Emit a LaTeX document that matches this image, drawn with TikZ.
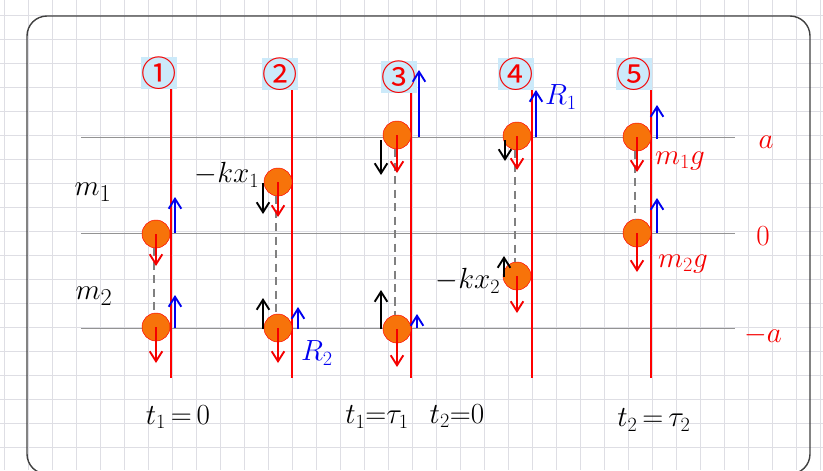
\documentclass[tikz,border=0pt]{standalone}
\usepackage{fontspec}
\usepackage{amsmath}
\newfontfamily\circfont{Noto Sans CJK JP}
\usetikzlibrary{arrows.meta,positioning}
\definecolor{ballorange}{RGB}{247,115,10}
\definecolor{gridgray}{RGB}{222,222,228}
\definecolor{tagblue}{RGB}{204,234,250}
\definecolor{penred}{RGB}{245,0,0}
\definecolor{penblue}{RGB}{0,0,240}

\begin{document}
\begin{tikzpicture}[x=0.03cm, y=-0.03cm,
  ball/.style={circle, draw=red, thin, fill=ballorange, minimum size=0.84cm, inner sep=0pt},
  tag/.style={fill=tagblue, text=penred, minimum size=0.82cm, inner sep=0pt, font=\circfont\fontsize{30}{30}\selectfont},
  force/.style={line width=1.6pt, -{Straight Barb[length=3mm,width=3.8mm,line width=1.6pt]}},
  redf/.style={force, penred},
  blkf/.style={force, black},
  bluef/.style={force, penblue},
  spring/.style={gray, line width=2pt, dash pattern=on 7pt off 4.5pt},
  level/.style={gray!85, line width=0.7pt},
  tline/.style={draw=red, line width=0.9pt},
  lbl/.style={font=\fontsize{23}{27}\selectfont},
  big/.style={font=\fontsize{29}{33}\selectfont}
]
\useasboundingbox (0,0) rectangle (823,470);
% paper
\foreach \x in {4,28,...,820} \draw[gridgray, line width=0.7pt] (\x,0) -- (\x,470);
\foreach \y in {15,39,...,447} \draw[gridgray, line width=0.7pt] (0,\y) -- (823,\y);
\draw[black!75, line width=1.2pt, rounded corners=0.6cm] (27,16) rectangle (810,474);

% levels a, 0, -a and the time axes
\foreach \y in {137,233,328} \draw[level] (81,\y) -- (735,\y);
\foreach \x in {171,292,411,532,651} \draw[tline] (\x,88) -- (\x,378);

\foreach \n/\x/\y in {1/159/73, 2/280/74, 3/399/77, 4/516/74, 5/634/74}
  \node[tag] (tag\n) at (\x,\y) {\ifcase\n\or ①\or ②\or ③\or ④\or ⑤\fi};

% masses (a = upper, b = lower)
\node[ball] (b1a) at (156,234) {};
\node[ball] (b1b) at (156,327) {};
\node[ball] (b2a) at (278,182) {};
\node[ball] (b2b) at (278,328) {};
\node[ball] (b3a) at (397,135) {};
\node[ball] (b3b) at (397,329) {};
\node[ball] (b4a) at (517,136) {};
\node[ball] (b4b) at (517,276) {};
\node[ball] (b5a) at (637,137) {};
\node[ball] (b5b) at (637,233) {};

\foreach \c in {1,...,5} \draw[spring] ([xshift=-0.06cm]b\c a.south) -- ([xshift=-0.06cm]b\c b.north);

% gravity
\foreach \c/\la/\lb in {1/32/36, 2/35/35, 3/38/38, 4/34/37, 5/35/39} {
  \draw[redf] (b\c a.center) -- ++(0,\la);
  \draw[redf] (b\c b.center) -- ++(0,\lb);
}

% spring forces
\draw[blkf] ([shift={(-15,1)}]b2a.center) -- ++(0,31);
\draw[blkf] ([shift={(-15,1)}]b2b.center) -- ++(0,-31);
\draw[blkf] ([shift={(-16,5)}]b3a.center) -- ++(0,35);
\draw[blkf] ([shift={(-16,0)}]b3b.center) -- ++(0,-39);
\draw[blkf] ([shift={(-12,4)}]b4a.center) -- ++(0,21);
\draw[blkf] ([shift={(-13,1)}]b4b.center) -- ++(0,-21);

% normal forces
\draw[bluef] ([shift={(19,-1)}]b1a.center) -- ++(0,-36);
\draw[bluef] ([shift={(19,1)}]b1b.center) -- ++(0,-33);
\draw[bluef] ([shift={(20,1)}]b2b.center) -- ++(0,-22);
\draw[bluef] ([shift={(22,2)}]b3a.center) -- ++(0,-67);
\draw[bluef] ([shift={(20,-1)}]b3b.center) -- ++(0,-14);
\draw[bluef] ([shift={(19,1)}]b4a.center) -- ++(0,-47);
\draw[bluef] ([shift={(20,2)}]b5a.center) -- ++(0,-34);
\draw[bluef] ([shift={(20,0)}]b5b.center) -- ++(0,-35);

% labels
\node[big] (m1) at (93,192) {$m_1$};
\node[big] (m2) at (94,296) {$m_2$};
\node[lbl] (kx1) at (227,175) {$-kx_1$};
\node[lbl] (kx2) at (468,281) {$-kx_2$};
\node[lbl, text=penblue] (R1) at (561,97) {$R_1$};
\node[lbl, text=penblue] (R2) at (317,353) {$R_2$};
\node[lbl, text=penred] (m1g) at (680,161) {$m_1g$};
\node[lbl, text=penred] (m2g) at (683,264) {$m_2g$};
\node[big, text=penred] (lvA) at (766,142) {$a$};
\node[big, text=penred] (lvO) at (763,236) {$0$};
\node[big, text=penred] (lvB) at (763,335) {$-a$};
\node[lbl] (tA) at (178,417) {$t_1\,{=}\,0$};
\node[lbl] (tB) at (377,417) {$t_1{=}\tau_1$};
\node[lbl] (tC) at (457,416) {$t_2{=}0$};
\node[lbl] (tD) at (654,420) {$t_2\,{=}\,\tau_2$};
\end{tikzpicture}
\end{document}
